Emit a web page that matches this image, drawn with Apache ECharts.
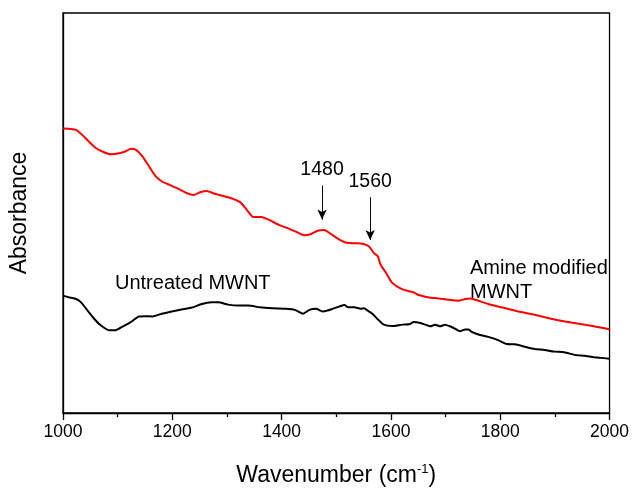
<!DOCTYPE html>
<html>
<head>
<meta charset="utf-8">
<script src="https://cdn.jsdelivr.net/npm/echarts@6/dist/echarts.min.js"></script>
<style>
html,body{margin:0;padding:0;background:#fff;}
#chart{width:632px;height:492px;}
</style>
</head>
<body>
<div id="chart"></div>
<script>
// Wavenumber (cm-1) and absorbance (arbitrary units)
const amineWn = [1000,1015,1024,1035,1047,1060,1075,1087,1103,1115,1124,1133,1145,1157,1169,1181,1196,1212,1227,1239,1251,1263,1275,1290,1308,1324,1336,1348,1363,1378,1396,1415,1430,1442,1454,1466,1478,1490,1502,1517,1533,1548,1560,1569,1576,1581,1591,1602,1620,1642,1651,1669,1687,1705,1724,1736,1745,1760,1778,1802,1833,1863,1893,1924,1954,1978,2000];
const amineAbs = [288.7,288.3,287.3,282.3,275.7,269,264.7,262.7,263.7,265.7,268.3,267.3,260.7,250.7,240.7,235,231.3,227.3,223,221.3,224,225.3,223,220.7,218,214,206.5,199,199,195.7,190.7,186.7,183,180.3,181.7,185,185.7,181.7,177.3,173,172.3,171.7,169,162.3,159,150.7,142.3,132.3,125.7,122.3,119.7,117.3,116.3,115,114,115.7,116.3,114,110.7,107.3,103,99.7,95.7,92.3,89.7,87.3,85];

const untreatedWn = [1000,1012,1024,1033,1045,1057,1069,1084,1096,1108,1124,1139,1151,1163,1181,1199,1217,1236,1254,1272,1284,1302,1320,1339,1360,1384,1408,1424,1433,1439,1451,1463,1475,1484,1493,1505,1515,1521,1533,1545,1551,1557,1566,1575,1587,1602,1621,1633,1642,1654,1663,1672,1681,1690,1699,1708,1717,1726,1736,1742,1748,1760,1778,1796,1812,1827,1845,1863,1881,1899,1917,1936,1954,1972,1990,2000];
const untreatedAbs = [119,117.3,115.7,112.3,104,95.7,89,84,84,87.3,92.3,98,98.3,98,100.7,103,105,107,110.7,112.3,112.3,110,109,109,107.3,106.3,105.7,104.7,102.3,100.7,104.7,105.7,103,104,105.7,108,109.7,107.3,107.3,105.7,106.3,104,100.7,95.7,89.7,88.3,89.7,90,92.3,91.3,89.7,88,89.7,88,89.7,88,85.7,83,84.7,84.7,82.3,79.7,77.3,74,70,69.7,67.3,65,64,62.3,61.7,59,58,56.7,55.7,55];

const xTicks = [1000,1200,1400,1600,1800,2000];

// Peak annotations: label, wavenumber, arrow start / end absorbance
const peakLabels = ['1480','1560'];
const peakWn = [1474,1562];
const peakFrom = [231,219];
const peakTo = [196.3,175.7];

const seriesNames = ['Amine modified MWNT','Untreated MWNT'];

const chart = echarts.init(document.getElementById('chart'), null, {renderer:'canvas'});
const font = 'Liberation Sans, Arial, sans-serif';

const pair = (xs, ys) => xs.map((x,i)=>[x, ys[i]]);

const arrows = peakLabels.map((lab,i)=>[
  {coord:[peakWn[i], peakFrom[i]], name: lab},
  {coord:[peakWn[i], peakTo[i]]}
]);

chart.setOption({
  animation:false,
  backgroundColor:'#fff',
  grid:{left:62,right:20,top:13,bottom:73,show:true,borderColor:'#000',borderWidth:1.3,backgroundColor:'transparent'},
  xAxis:{
    type:'value',min:1000,max:2000,interval:200,
    name:'{a|Wavenumber (cm}{s|-1}{a|)}',
    nameLocation:'middle',nameGap:50,
    nameTextStyle:{rich:{
      a:{fontFamily:font,fontSize:23,color:'#000'},
      s:{fontFamily:font,fontSize:13,color:'#000',padding:[0,0,12,0]}
    }},
    axisLine:{show:true,lineStyle:{color:'#000',width:1.3}},
    axisTick:{show:true,inside:false,length:7,lineStyle:{color:'#000',width:1.3}},
    minorTick:{show:true,splitNumber:2,length:4,lineStyle:{color:'#000',width:1.3}},
    axisLabel:{fontFamily:font,fontSize:17.5,color:'#000',margin:10,
      formatter:v=> xTicks.includes(v)? String(v):''},
    splitLine:{show:false}
  },
  yAxis:{
    type:'value',min:0,max:406,
    name:'Absorbance',nameLocation:'middle',nameGap:32,
    nameTextStyle:{fontFamily:font,fontSize:23,color:'#000'},
    axisLine:{show:true,lineStyle:{color:'#000',width:1.3}},
    axisTick:{show:false},axisLabel:{show:false},splitLine:{show:false}
  },
  series:[
    {
      name:seriesNames[0],type:'line',data:pair(amineWn,amineAbs),
      showSymbol:false,smooth:0.2,lineStyle:{color:'#ff0000',width:2},
      markLine:{
        silent:true,symbol:['none','arrow'],symbolSize:[7,10],
        lineStyle:{color:'#000',width:1,type:'solid'},
        label:{show:true,position:'start',distance:6,formatter:p=>p.name,
          fontFamily:font,fontSize:19.5,color:'#000'},
        data:arrows
      }
    },
    {
      name:seriesNames[1],type:'line',data:pair(untreatedWn,untreatedAbs),
      showSymbol:false,smooth:0.2,lineStyle:{color:'#000',width:2}
    }
  ],
  graphic:[
    {type:'text',left:115,top:273,style:{text:'Untreated MWNT',font:'20px '+font,fill:'#000'}},
    {type:'text',left:470,top:256,style:{text:'Amine modified\nMWNT',font:'20px '+font,fill:'#000',lineHeight:24}}
  ]
});
</script>
</body>
</html>
